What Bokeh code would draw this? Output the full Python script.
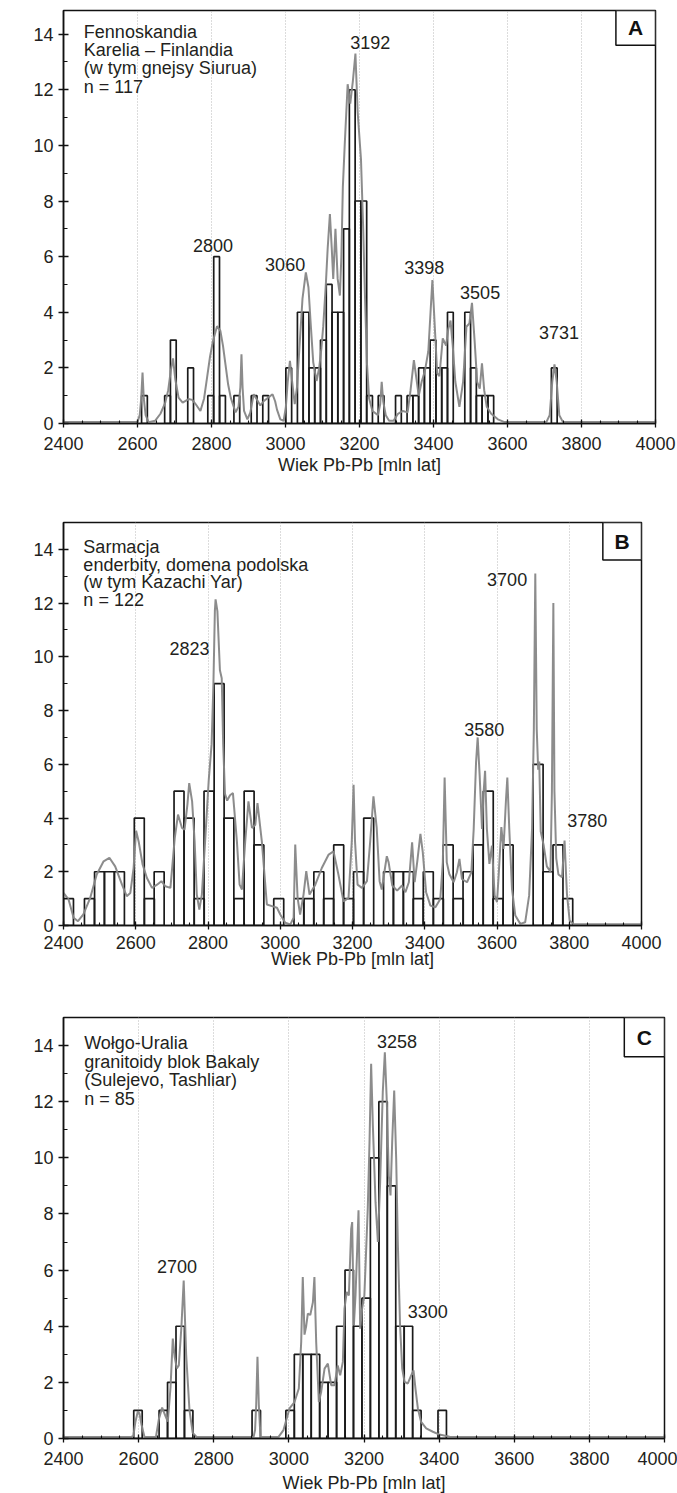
from bokeh.plotting import figure
from bokeh.models import FixedTicker, Label, BoxAnnotation
from bokeh.layouts import column
from bokeh.embed import file_html
from bokeh.resources import INLINE

FONT = "Liberation Sans"
TXT = "#231f20"

# ---------------- Panel A data ----------------
a_bin_left = [2611, 2673.4, 2689, 2735.8, 2790, 2806, 2822, 2860.6, 2907.4, 2938.6,
              3001, 3032.2, 3047.8, 3063.4, 3079, 3094.6, 3110.2, 3125.8, 3141.4, 3157,
              3172.6, 3188.2, 3203.8, 3219.4, 3250.6, 3297.4, 3328.6, 3344.2, 3359.8, 3375.4,
              3391, 3406.6, 3422.2, 3437.8, 3484.6, 3500.2, 3515.8, 3531.4, 3547, 3718.6]
a_counts = [1, 1, 3, 2, 1, 6, 1, 1, 1, 1,
            2, 4, 4, 2, 2, 3, 5, 4, 4, 7,
            12, 8, 8, 1, 1, 1, 1, 1, 2, 2,
            3, 2, 2, 4, 4, 2, 1, 1, 1, 2]
a_bin_width = 15.6
a_curve_x = [2400, 2600, 2606, 2610, 2613.6, 2617, 2622, 2630, 2648, 2662, 2675, 2683, 2690, 2696,
             2702, 2711, 2722, 2738, 2748, 2757, 2770, 2780, 2788, 2796, 2804, 2815, 2824, 2831,
             2838, 2845, 2852, 2865, 2873, 2878, 2881, 2884, 2888, 2897, 2905, 2914, 2923, 2932,
             2941, 2955, 2965, 2972, 2977, 2986, 2995, 3001, 3006, 3012, 3018, 3025, 3031, 3038,
             3046, 3055, 3062, 3068, 3075, 3084, 3091, 3097, 3102, 3109, 3114, 3120, 3125, 3129,
             3135, 3141, 3147, 3151, 3155, 3160, 3168, 3175, 3182, 3189, 3195, 3204, 3210, 3215,
             3220, 3226, 3235, 3250, 3256, 3260, 3264, 3271, 3280, 3292, 3304, 3317, 3330, 3338,
             3347, 3354, 3360, 3368, 3377, 3386, 3392, 3397, 3403, 3410, 3416, 3425, 3434, 3440,
             3446, 3452, 3459, 3470, 3480, 3489, 3497, 3504, 3511, 3518, 3525, 3531, 3537, 3544,
             3556, 3574, 3592, 3610, 3705, 3714, 3721, 3727, 3733, 3740, 3750, 4000]
a_curve_y = [0.05, 0.05, 0.3, 0.9, 1.83, 0.9, 0.3, 0.05, 0.1, 0.35, 0.75, 1.2, 1.9, 2.34,
             1.6, 0.93, 0.75, 0.88, 0.85, 0.7, 0.45, 0.9, 1.65, 2.4, 2.97, 3.5, 3.33, 2.8,
             2.1, 1.4, 0.93, 0.4, 0.6, 1.3, 2.49, 1.3, 0.45, 0.15, 0.4, 1.05, 0.85, 0.65,
             0.8, 0.95, 1.05, 0.8, 0.5, 0.15, 0.1, 0.6, 1.5, 2.25, 1.5, 0.7, 1.3, 2.8,
             4.5, 5.43, 4.9, 3.6, 2.2, 1.53, 2.0, 2.7, 3.5, 5.0, 6.3, 7.53, 6.3, 5.2,
             7.0, 5.2, 4.6, 6.0, 8.5, 10.0, 12.2, 11.5, 12.3, 13.3, 11.2, 9.5, 7.0, 4.5,
             2.2, 0.9, 0.45, 0.3, 0.7, 1.5, 0.8, 0.3, 0.1, 0.1, 0.35, 0.45, 0.4, 1.2,
             2.28, 1.6, 1.0, 1.5, 1.9, 2.6, 4.0, 5.16, 3.6, 1.8, 1.7, 3.06, 2.8, 3.4,
             3.7, 2.8, 1.5, 0.6, 1.5, 3.48, 3.6, 4.34, 3.0, 1.5, 1.25, 2.16, 1.2, 0.6,
             0.35, 0.15, 0.05, 0.05, 0.05, 0.3, 1.5, 2.13, 1.5, 0.3, 0.05, 0.05]
a_text = ["Fennoskandia", "Karelia \u2013 Finlandia", "(w tym gnejsy Siurua)", "n = 117"]
a_peaks = ["2800", "3060", "3192", "3398", "3505", "3731"]
a_peak_x = [2804, 2999, 3229, 3375, 3526, 3739]
a_peak_y = [6.41, 5.73, 13.7, 5.61, 4.70, 3.26]

# ---------------- Panel B data ----------------
b_bin_left = [2400, 2458, 2486, 2513, 2541, 2596, 2624, 2651, 2706, 2734,
              2762, 2789, 2817, 2844, 2872, 2900, 2927, 2982, 3038, 3065,
              3093, 3120, 3148, 3175, 3203, 3231, 3286, 3313, 3341, 3368,
              3396, 3424, 3451, 3479, 3506, 3534, 3562, 3589, 3617, 3700,
              3727, 3755, 3782]
b_counts = [1, 1, 2, 2, 2, 4, 1, 2, 5, 4,
            1, 5, 9, 4, 1, 5, 3, 1, 1, 1,
            2, 1, 3, 1, 2, 4, 2, 2, 2, 1,
            2, 1, 3, 1, 2, 3, 5, 1, 3, 6,
            2, 3, 1]
b_bin_width = 27.6
b_curve_x = [2400, 2414, 2428, 2440, 2455, 2474, 2492, 2511, 2527, 2543, 2562, 2575, 2585, 2594,
             2601, 2608, 2619, 2631, 2645, 2659, 2671, 2682, 2696, 2708, 2717, 2728, 2735, 2743,
             2748, 2756, 2763, 2769, 2776, 2783, 2792, 2802, 2810, 2815, 2819, 2821, 2826, 2833,
             2838, 2842, 2847, 2853, 2861, 2869, 2880, 2887.5, 2894, 2903, 2912, 2921.7, 2931, 2937,
             2949, 2963, 2977, 2991, 3000, 3014, 3028, 3037, 3041.5, 3048, 3055, 3064.5, 3072, 3081,
             3097, 3115, 3134, 3147.5, 3161, 3175, 3189, 3198, 3203, 3207, 3214, 3226, 3240, 3249,
             3258, 3267, 3275, 3281, 3290, 3295, 3300, 3310, 3323.5, 3337, 3346.5, 3356, 3365, 3372,
             3379, 3388, 3394.5, 3403.7, 3415.7, 3429.5, 3443, 3450, 3455, 3461, 3468, 3480, 3489, 3496,
             3503, 3517, 3529, 3535.5, 3542, 3546.5, 3552, 3558.5, 3563, 3567, 3572, 3579, 3586, 3593.5,
             3600, 3604.6, 3612, 3618, 3625, 3628.6, 3634, 3641.5, 3650.7, 3664.5, 3678, 3689, 3697, 3702,
             3706, 3710, 3714, 3717, 3721, 3729, 3738, 3748, 3752, 3756, 3759, 3764, 3770, 3780,
             3787, 3793.6, 3801, 3812, 4000]
b_curve_y = [1.21, 0.97, 0.29, 0.16, 0.41, 1.03, 1.9, 2.39, 2.52, 2.2, 1.52, 1.09, 1.21, 2.14,
             3.53, 3.13, 2.27, 1.77, 1.4, 1.52, 1.65, 1.46, 1.4, 3.26, 4.13, 3.63, 3.57, 4.5,
             5.3, 4.62, 3.13, 1.15, 0.59, 1.15, 3.13, 5.4, 6.75, 9.0, 11.7, 12.14, 11.7, 9.5,
             9.2, 6.75, 4.9, 4.65, 4.85, 4.93, 3.13, 1.52, 1.34, 3.13, 4.62, 3.63, 3.75, 4.56,
             3.13, 0.78, 0.72, 0.66, 0.41, 0.1, 0.04, 0.29, 3.01, 1.03, 0.41, 1.15, 2.02, 1.15,
             1.52, 2.14, 2.64, 2.76, 1.9, 0.9, 1.03, 3.13, 5.24, 3.13, 1.52, 1.4, 1.65, 3.13,
             4.81, 3.63, 1.65, 1.34, 2.14, 2.58, 2.35, 1.49, 1.3, 1.49, 1.24, 1.61, 3.1, 1.61,
             2.35, 3.41, 2.73, 1.24, 0.74, 0.68, 0.99, 2.35, 5.51, 2.35, 1.92, 1.61, 1.98, 2.48,
             1.73, 1.61, 1.98, 3.59, 6.07, 7.0, 5.58, 3.59, 4.96, 5.76, 3.59, 2.29, 2.97, 1.12,
             0.87, 1.86, 3.66, 2.85, 4.71, 5.51, 3.59, 1.36, 0.37, 0.06, 0.12, 1.12, 3.59, 7.3,
             13.1, 7.3, 5.8, 6.1, 3.5, 3.0, 2.2, 2.0, 5.0, 12.0, 5.0, 2.5, 1.9, 1.8,
             3.16, 1.18, 0.19, 0.05, 0.05]
b_text = ["Sarmacja", "enderbity, domena podolska", "(w tym Kazachi Yar)", "n = 122"]
b_peaks = ["2823", "3700", "3580", "3780"]
b_peak_x = [2749, 3628, 3565, 3850]
b_peak_y = [10.31, 12.89, 7.31, 3.90]

# ---------------- Panel C data ----------------
c_bin_left = [2587, 2654.5, 2677, 2699.5, 2722, 2902, 2992, 3014.5, 3037, 3059.5,
              3082, 3104.5, 3127, 3149.5, 3172, 3194.5, 3217, 3239.5, 3262, 3284.5,
              3307, 3329.5, 3397]
c_counts = [1, 1, 2, 4, 1, 1, 1, 3, 3, 3,
            2, 2, 4, 6, 4, 5, 10, 12, 9, 4,
            4, 1, 1]
c_bin_width = 22.5
c_curve_x = [2400, 2580, 2586, 2591.5, 2598, 2602, 2607.6, 2615.6, 2646, 2654, 2662.6, 2671.5,
             2677.7, 2684.8, 2691, 2696, 2701.7, 2707, 2714, 2720, 2726.5, 2735.4, 2744, 2755,
             2906, 2910, 2913, 2916.4, 2920, 2924.4, 2972, 2985.6, 3001.7, 3015, 3026.5, 3032.8,
             3037, 3041.6, 3046, 3050.5, 3057, 3064, 3068, 3072.7, 3079.8, 3086, 3095, 3103.8,
             3112.6, 3121.5, 3130, 3136.6, 3143.7, 3148, 3154, 3159.7, 3165.9, 3168.5, 3173, 3177.4,
             3181.9, 3185.4, 3189.8, 3195, 3201, 3210, 3214.7, 3219, 3223.6, 3230.7, 3237, 3243,
             3250, 3255.5, 3260.8, 3266, 3270.6, 3275, 3280.4, 3285.7, 3290, 3296, 3301.7, 3307.9,
             3316.7, 3325.6, 3331.8, 3337, 3343.4, 3352, 3365.6, 3383.3, 3401, 3427.7, 3460, 4000]
c_curve_y = [0.05, 0.05, 0.1, 0.6, 0.97, 0.9, 0.5, 0.05, 0.05, 0.7, 1.1, 0.8,
             0.6, 1.8, 3.56, 2.9, 2.5, 2.6, 4.0, 5.63, 3.0, 1.0, 0.2, 0.05,
             0.05, 0.3, 1.2, 2.91, 1.2, 0.05, 0.05, 0.3, 1.07, 1.3, 1.78, 3.44,
             5.75, 3.7, 4.0, 4.45, 4.4, 4.86, 5.75, 3.44, 1.3, 1.66, 2.49, 2.67,
             1.9, 1.9, 2.6, 2.25, 2.73, 4.63, 5.22, 5.1, 7.47, 7.71, 4.03, 5.1,
             6.76, 8.13, 3.91, 4.63, 5.1, 8.19, 10.56, 13.35, 11.15, 8.42, 7.0, 9.13,
             12.34, 13.76, 11.98, 9.37, 8.66, 10.56, 12.4, 9.96, 7.0, 4.03, 2.49, 2.02,
             1.96, 2.25, 2.43, 1.78, 1.07, 0.59, 0.36, 0.24, 0.14, 0.06, 0.05, 0.05]
c_text = ["Wo\u0142go-Uralia", "granitoidy blok Bakaly", "(Sulejevo, Tashliar)", "n = 85"]
c_peaks = ["2700", "3258", "3300"]
c_peak_x = [2702, 3288, 3370]
c_peak_y = [6.13, 14.15, 4.54]

x_ticks = [2400, 2600, 2800, 3000, 3200, 3400, 3600, 3800, 4000]
y_ticks = [0, 2, 4, 6, 8, 10, 12, 14]
x_label = "Wiek Pb-Pb [mln lat]"


def panel(letter, bin_left, counts, width, cx, cy, lines, peaks, px, py,
          left, fw, right, top, fh, bottom, ymax, tick_standoff, label_standoff):
    p = figure(frame_width=fw, frame_height=fh, x_range=(2400, 4000), y_range=(0, ymax),
               output_backend="svg", toolbar_location=None, title=None,
               min_border_left=left, min_border_right=right,
               min_border_top=top, min_border_bottom=bottom)
    p.background_fill_color = "white"
    p.border_fill_color = "white"
    p.outline_line_color = "#111111"
    p.outline_line_width = 1.5

    p.quad(left=bin_left, right=[b + width for b in bin_left], bottom=0, top=counts,
           fill_color=None, line_color="#1a1a1a", line_width=1.7)
    p.line(cx, cy, line_color="#868686", line_width=2.0, line_alpha=0.95)

    p.xaxis.ticker = FixedTicker(ticks=x_ticks, minor_ticks=list(range(2400, 4001, 50)))
    p.yaxis.ticker = FixedTicker(ticks=y_ticks, minor_ticks=list(range(1, 15, 2)))
    for ax in (p.xaxis[0], p.yaxis[0]):
        ax.axis_line_color = "#111111"
        ax.axis_line_width = 1.5
        ax.major_tick_line_color = "#111111"
        ax.minor_tick_line_color = "#111111"
        ax.major_tick_line_width = 1.3
        ax.minor_tick_line_width = 1.1
        ax.major_label_text_font = FONT
        ax.major_label_text_font_size = "18px"
        ax.major_label_text_color = TXT
    p.xaxis.major_tick_in = 4
    p.xaxis.major_tick_out = 4
    p.xaxis.minor_tick_in = 3
    p.xaxis.minor_tick_out = 0
    p.yaxis.major_tick_in = 5
    p.yaxis.major_tick_out = 5
    p.yaxis.minor_tick_in = 4
    p.yaxis.minor_tick_out = 0
    p.yaxis.major_label_standoff = 5
    p.xaxis.major_label_standoff = tick_standoff
    p.xaxis.axis_label = x_label
    p.xaxis.axis_label_text_font = FONT
    p.xaxis.axis_label_text_font_size = "18px"
    p.xaxis.axis_label_text_font_style = "normal"
    p.xaxis.axis_label_text_color = TXT
    p.xaxis.axis_label_standoff = label_standoff

    p.xgrid.grid_line_color = "#b8b8b8"
    p.xgrid.grid_line_dash = "1 2"
    p.xgrid.grid_line_width = 1
    p.ygrid.visible = False

    # panel letter box in the top right corner
    p.add_layout(BoxAnnotation(left=3893, right=4000, bottom=13.6, top=ymax,
                               fill_color="white", fill_alpha=1.0,
                               line_color="#111111", line_width=1.5, line_alpha=1.0))
    p.add_layout(Label(x=3946, y=(13.6 + ymax) / 2, text=letter, text_font=FONT,
                       text_font_size="21px", text_font_style="bold", text_color="#111111",
                       text_align="center", text_baseline="middle"))

    ys = [14.09, 13.43, 12.77, 12.11]
    for t, yy in zip(lines, ys):
        p.add_layout(Label(x=2455, y=yy, text=t, text_font=FONT, text_font_size="18px",
                           text_color=TXT, text_align="left", text_baseline="middle"))
    for t, xx, yy in zip(peaks, px, py):
        p.add_layout(Label(x=xx, y=yy, text=t, text_font=FONT, text_font_size="18px",
                           text_color=TXT, text_align="center", text_baseline="middle"))
    return p


pA = panel("A", a_bin_left, a_counts, a_bin_width, a_curve_x, a_curve_y, a_text,
           a_peaks, a_peak_x, a_peak_y,
           left=63, fw=592, right=22, top=10, fh=413, bottom=61, ymax=14.85,
           tick_standoff=9, label_standoff=2)
pB = panel("B", b_bin_left, b_counts, b_bin_width, b_curve_x, b_curve_y, b_text,
           b_peaks, b_peak_x, b_peak_y,
           left=63, fw=578, right=36, top=38, fh=403, bottom=55, ymax=15,
           tick_standoff=6, label_standoff=-3)
pC = panel("C", c_bin_left, c_counts, c_bin_width, c_curve_x, c_curve_y, c_text,
           c_peaks, c_peak_x, c_peak_y,
           left=54, fw=601, right=22, top=37, fh=421, bottom=55, ymax=15,
           tick_standoff=9, label_standoff=5)

layout = column(pA, pB, pC, spacing=0)
open("out.html", "w").write(file_html(layout, INLINE))
